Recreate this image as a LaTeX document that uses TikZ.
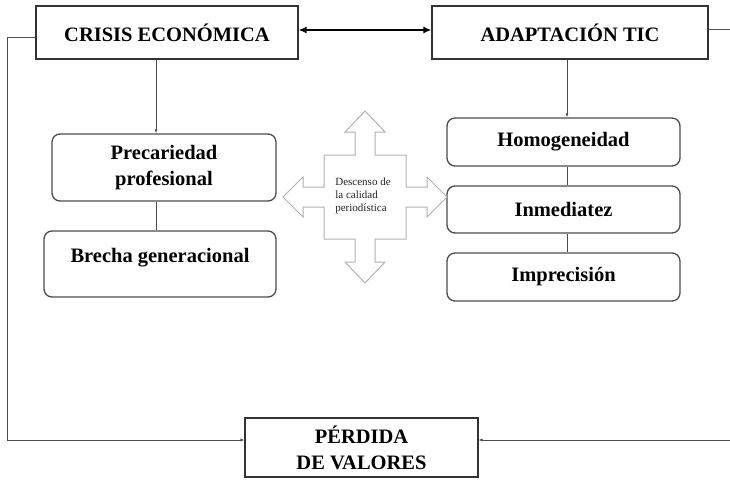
\documentclass[tikz,border=0pt]{standalone}
\usepackage{fontspec}
\setmainfont{Liberation Serif}
\usepackage{xcolor}
\usetikzlibrary{positioning, calc, arrows.meta}

\begin{document}
\begin{tikzpicture}[x=1pt,y=-1pt,
    caja/.style={draw=black!80, line width=1.1pt, fill=white, inner sep=0pt,
      font=\fontsize{20.5}{26}\selectfont\bfseries, align=center},
    redonda/.style={caja, rounded corners=8pt, draw=black!70, line width=1.3pt},
    enlace/.style={draw=black!70, line width=1pt}]
      \useasboundingbox (0,0) rectangle (730,479);
      % cajas principales
      \node[caja, minimum width=262pt, minimum height=53pt] (crisis) at (167,32.5) {CRISIS ECONÓMICA};
      \node[caja, minimum width=276pt, minimum height=53pt] (adapt) at (570,32.5) {ADAPTACIÓN TIC};
      \node[caja, minimum width=233pt, minimum height=59pt] (perdida) at (361.5,447.5) {PÉRDIDA\\DE VALORES};
      % columna izquierda
      \node[redonda, minimum width=224pt, minimum height=67pt] (precariedad) at (164,167.5) {Precariedad\\profesional};
      \node[redonda, minimum width=232pt, minimum height=66pt, text height=15pt, text depth=19pt] (brecha) at (160,264) {Brecha generacional};
      % columna derecha
      \node[redonda, minimum width=233pt, minimum height=48pt] (homog) at (563.5,142) {Homogeneidad};
      \node[redonda, minimum width=233pt, minimum height=47pt] (inmed) at (563.5,209.5) {Inmediatez};
      \node[redonda, minimum width=233pt, minimum height=48pt] (imprec) at (563.5,277) {Imprecisión};
      % flecha de cuatro puntas
      \begin{scope}[shift={(365,197)}]
        \draw[draw=black!30, line width=1pt, fill=white]
          (0,-86) -- (20,-65) -- (10,-65) -- (10,-42) -- (41,-42) -- (41,-10)
          -- (62,-10) -- (62,-20) -- (82,0) -- (62,20) -- (62,10) -- (41,10)
          -- (41,42) -- (10,42) -- (10,65) -- (20,65) -- (0,86) -- (-20,65)
          -- (-10,65) -- (-10,42) -- (-41,42) -- (-41,10) -- (-62,10) -- (-62,20)
          -- (-82,0) -- (-62,-20) -- (-62,-10) -- (-41,-10) -- (-41,-42)
          -- (-10,-42) -- (-10,-65) -- (-20,-65) -- cycle;
      \end{scope}
      \node[align=left, text=black!85, inner sep=0pt, font=\fontsize{11}{13}\selectfont] (descenso) at (363,196) {Descenso de\\la calidad\\periodística};
      % conexiones
      \coordinate (esqizq) at (7,440);
      \coordinate (esqder) at (734,440);
      \draw[line width=2pt, {Latex[length=8pt,width=7pt]}-{Latex[length=8pt,width=7pt]}]
        ([yshift=2.5pt]crisis.east) -- ([yshift=2.5pt]adapt.west);
      \draw[enlace, -{Latex[length=4pt,width=3pt]}] ([xshift=-11pt]crisis.south) -- ([xshift=-11pt]crisis.south |- precariedad.north);
      \draw[enlace] ([xshift=-8pt]precariedad.south) -- ([xshift=-8pt]precariedad.south |- brecha.north);
      \draw[enlace, -{Latex[length=4pt,width=3pt]}] ([xshift=-3pt]adapt.south) -- ([xshift=-3pt]adapt.south |- homog.north);
      \draw[enlace] ([xshift=3.5pt]homog.south) -- ([xshift=3.5pt]inmed.north);
      \draw[enlace] ([xshift=3.5pt]inmed.south) -- ([xshift=3.5pt]imprec.north);
      \draw[enlace, -{Latex[length=4pt,width=3pt]}] ([yshift=-4.5pt]crisis.west) -| (esqizq) -- ([yshift=7.5pt]perdida.west);
      \draw[enlace, -{Latex[length=4pt,width=3pt]}] ([yshift=3.5pt]adapt.east) -| (esqder) -- ([yshift=7.5pt]perdida.east);
    \end{tikzpicture}
\end{document}
